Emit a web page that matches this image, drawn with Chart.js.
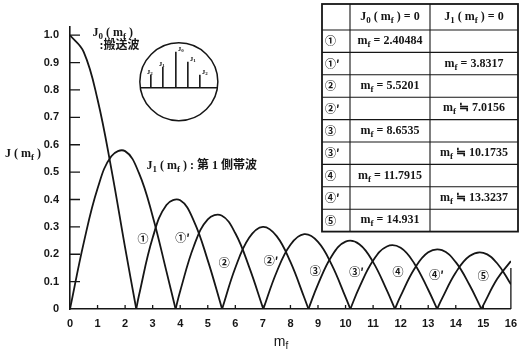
<!DOCTYPE html>
<html>
<head>
<meta charset="utf-8">
<script src="https://cdn.jsdelivr.net/npm/chart.js@4"></script>
<style>
  html, body { margin: 0; padding: 0; background: #fff; }
  canvas { display: block; }
</style>
</head>
<body>
<canvas id="besselChart" width="525" height="352"></canvas>
<script>
// |J0(mf)| and |J1(mf)|, every 0.5
const mf = [0, 0.5, 1, 1.5, 2, 2.5, 3, 3.5, 4, 4.5, 5, 5.5, 6, 6.5, 7, 7.5, 8,
  8.5, 9, 9.5, 10, 10.5, 11, 11.5, 12, 12.5, 13, 13.5, 14, 14.5, 15, 15.5, 16];
const j0Abs = [1.0, 0.9385, 0.7652, 0.5118, 0.2239, 0.0484, 0.2601, 0.3801, 0.3971,
  0.3205, 0.1776, 0.0068, 0.1506, 0.2601, 0.3001, 0.2663, 0.1717, 0.0419, 0.0903,
  0.1939, 0.2459, 0.2366, 0.1712, 0.0677, 0.0477, 0.1469, 0.2069, 0.2150, 0.1711,
  0.0875, 0.0142, 0.1092, 0.1749];
const j1Abs = [0, 0.2423, 0.4401, 0.5579, 0.5767, 0.4971, 0.3391, 0.1374, 0.0660,
  0.2311, 0.3276, 0.3414, 0.2767, 0.1538, 0.0047, 0.1352, 0.2346, 0.2731, 0.2453,
  0.1613, 0.0435, 0.0789, 0.1768, 0.2284, 0.2234, 0.1655, 0.0703, 0.0380, 0.1334,
  0.1934, 0.2051, 0.1672, 0.0904];

// zeros, as printed in the table
const j0Zeros = [2.40484, 5.5201, 8.6535, 11.7915, 14.931];
const j1Zeros = [3.8317, 7.0156, 10.1735, 13.3237];
const j1Eq = ['=', '≒', '≒', '≒'];
const rowMarks = ['①', '①′', '②', '②′', '③', '③′', '④', '④′', '⑤'];

const xTicks = [0, 1, 2, 3, 4, 5, 6, 7, 8, 9, 10, 11, 12, 13, 14, 15, 16];
const yTicks = [0, 0.1, 0.2, 0.3, 0.4, 0.5, 0.6, 0.7, 0.8, 0.9, 1.0];

const INK = '#161616';
const SERIF = '"Liberation Serif", "Noto Sans CJK JP", serif';
const SANS = '"Liberation Sans", "Noto Sans CJK JP", sans-serif';
const CJK = '"Noto Sans CJK JP", sans-serif';

// split a |J| curve into its arches so the cusps at the zeros stay sharp
function lobes(xs, ys, zeros) {
  const pts = xs.map((x, i) => ({ x, y: ys[i] }))
    .concat(zeros.map(z => ({ x: z, y: 0 })))
    .sort((a, b) => a.x - b.x);
  const out = [];
  let cur = [];
  for (const p of pts) {
    cur.push(p);
    if (p.y === 0 && cur.length > 1) { out.push(cur); cur = [p]; }
  }
  if (cur.length > 1) out.push(cur);
  return out;
}

const datasets = lobes(mf, j0Abs, j0Zeros).concat(lobes(mf, j1Abs, j1Zeros))
  .map(data => ({
    data,
    borderColor: INK,
    borderWidth: 1.8,
    pointRadius: 0,
    tension: 0.4,
    fill: false
  }));

// text with subscripts: parts = [[text, isSub], ...]
function rich(ctx, parts, x, y, size, align, family, weight) {
  const fam = family || SERIF;
  const wt = weight || 'bold';
  const fontFor = p => `${wt} ${p[1] ? Math.round(size * 0.72) : size}px ${fam}`;
  let total = 0;
  parts.forEach(p => { ctx.font = fontFor(p); total += ctx.measureText(p[0]).width; });
  let cx = align === 'center' ? x - total / 2 : align === 'right' ? x - total : x;
  ctx.textAlign = 'left';
  ctx.textBaseline = 'middle';
  parts.forEach(p => {
    ctx.font = fontFor(p);
    ctx.fillText(p[0], cx, p[1] ? y + size * 0.3 : y);
    cx += ctx.measureText(p[0]).width;
  });
}

const decor = {
  id: 'decor',
  afterDraw(chart) {
    const { ctx, scales: { x, y } } = chart;
    ctx.save();
    ctx.strokeStyle = INK;
    ctx.fillStyle = INK;

    // tick marks point into the plot
    ctx.lineWidth = 1.3;
    ctx.beginPath();
    yTicks.slice(1).forEach(v => {
      const py = y.getPixelForValue(v);
      ctx.moveTo(x.left, py); ctx.lineTo(x.left + 10, py);
    });
    xTicks.slice(1).forEach(v => {
      const px = x.getPixelForValue(v);
      ctx.moveTo(px, y.bottom); ctx.lineTo(px, y.bottom - 4);
    });
    ctx.moveTo(x.right, y.bottom); ctx.lineTo(x.right, y.getPixelForValue(0.15));
    ctx.stroke();

    // axis titles
    rich(ctx, [['J ( m'], ['f', 1], [' )']], 5, 154, 12, 'left');
    rich(ctx, [['m'], ['f', 1]], 281, 342, 14, 'center', SANS, 'normal');

    // curve names
    rich(ctx, [['J'], ['0', 1], [' ( m'], ['f', 1], [' )']], x.getPixelForValue(0.82), 33, 12, 'left');
    rich(ctx, [[':搬送波']], x.getPixelForValue(1.07), 46, 12, 'left');
    rich(ctx, [['J'], ['1', 1], [' ( m'], ['f', 1], [' ) : 第 1 側帯波']],
      x.getPixelForValue(2.78), y.getPixelForValue(0.523), 12, 'left');

    // zero markers between the arches
    const marks = [[2.65, 0.255], [4.08, 0.26], [5.6, 0.17], [7.3, 0.175], [8.9, 0.14],
      [10.4, 0.135], [11.9, 0.135], [13.3, 0.125], [15.0, 0.12]];
    ctx.font = `bold 11px ${CJK}`;
    ctx.textAlign = 'center';
    ctx.textBaseline = 'middle';
    marks.forEach((m, i) => {
      ctx.fillText(rowMarks[i], x.getPixelForValue(m[0]), y.getPixelForValue(m[1]));
    });

    // inset: spectrum in a circle
    const cx = x.getPixelForValue(3.95), cy = y.getPixelForValue(0.83), r = 39;
    ctx.fillStyle = '#fff';
    ctx.lineWidth = 1.5;
    ctx.beginPath(); ctx.arc(cx, cy, r, 0, Math.PI * 2); ctx.fill(); ctx.stroke();
    const base = cy + 6, half = Math.sqrt(r * r - 36);
    ctx.beginPath(); ctx.moveTo(cx - half, base); ctx.lineTo(cx + half, base); ctx.stroke();
    const lines = [[-28, 13, '2', -1], [-16, 21, '1', -1], [-3, 36, '0', 1], [9, 26, '1', 1], [21, 13, '2', 1]];
    ctx.fillStyle = INK;
    lines.forEach(l => {
      ctx.lineWidth = 1.6;
      ctx.beginPath(); ctx.moveTo(cx + l[0], base); ctx.lineTo(cx + l[0], base - l[1]); ctx.stroke();
      rich(ctx, [['J'], [l[2], 1]], cx + l[0] + (l[3] > 0 ? 2 : -1), base - l[1] - 3, 7,
        l[3] > 0 ? 'left' : 'center');
    });

    // table of zeros
    const tl = 322, tr = 518, tt = 4, hb = 30, rh = 22.4;
    const c1 = 350, c2 = 430, tb = hb + rh * rowMarks.length;
    ctx.fillStyle = '#fff';
    ctx.fillRect(tl, tt, tr - tl, tb - tt);
    ctx.lineWidth = 1.1;
    ctx.beginPath();
    for (let i = 0; i < rowMarks.length; i++) {
      ctx.moveTo(tl, hb + rh * i); ctx.lineTo(tr, hb + rh * i);
    }
    ctx.moveTo(c1, tt); ctx.lineTo(c1, tb);
    ctx.moveTo(c2, tt); ctx.lineTo(c2, tb);
    ctx.stroke();
    ctx.lineWidth = 1.8;
    ctx.strokeRect(tl, tt, tr - tl, tb - tt);

    ctx.fillStyle = INK;
    const m0 = (c1 + c2) / 2, m1 = (c2 + tr) / 2;
    rich(ctx, [['J'], ['0', 1], [' ( m'], ['f', 1], [' ) = 0']], m0, (tt + hb) / 2, 12, 'center');
    rich(ctx, [['J'], ['1', 1], [' ( m'], ['f', 1], [' ) = 0']], m1, (tt + hb) / 2, 12, 'center');
    rowMarks.forEach((mk, i) => {
      const ry = hb + rh * (i + 0.5);
      ctx.font = `bold 11px ${CJK}`;
      ctx.textAlign = 'left';
      ctx.textBaseline = 'middle';
      ctx.fillText(mk, tl + 3, ry);
      const k = Math.floor(i / 2);
      if (i % 2 === 0) {
        rich(ctx, [['m'], ['f', 1], [' = ' + j0Zeros[k]]], m0, ry, 12, 'center');
      } else {
        rich(ctx, [['m'], ['f', 1], [' ' + j1Eq[k] + ' ' + j1Zeros[k]]], m1, ry, 12, 'center');
      }
    });
    ctx.restore();
  }
};

new Chart(document.getElementById('besselChart').getContext('2d'), {
  type: 'line',
  data: { datasets },
  options: {
    responsive: false,
    animation: false,
    layout: { padding: { top: 27, right: 7, left: 0, bottom: 0 }, autoPadding: false },
    plugins: { legend: { display: false }, tooltip: { enabled: false } },
    scales: {
      x: {
        type: 'linear',
        min: 0,
        max: 16,
        afterBuildTicks: s => { s.ticks = xTicks.map(v => ({ value: v })); },
        afterFit: s => { s.height = 43; },
        ticks: {
          autoSkip: false,
          maxRotation: 0,
          padding: 8,
          color: INK,
          font: { family: SANS, size: 11, weight: 'bold' }
        },
        grid: { display: false, drawTicks: false },
        border: { display: true, color: INK, width: 1.6 }
      },
      y: {
        min: 0,
        max: 1.03,
        afterBuildTicks: s => { s.ticks = yTicks.map(v => ({ value: v })); },
        afterFit: s => { s.width = 70; },
        ticks: {
          padding: 11,
          color: INK,
          font: { family: SANS, size: 11, weight: 'bold' },
          callback: v => (v === 0 ? '0' : v.toFixed(1))
        },
        grid: { display: false, drawTicks: false },
        border: { display: true, color: INK, width: 1.6 }
      }
    }
  },
  plugins: [decor]
});
</script>
</body>
</html>
